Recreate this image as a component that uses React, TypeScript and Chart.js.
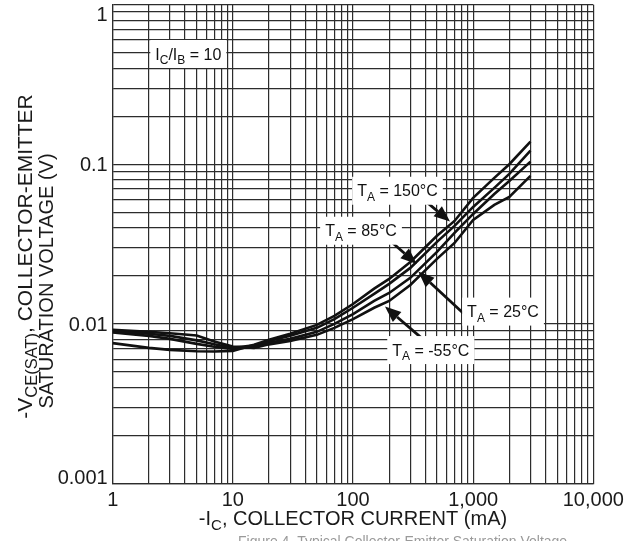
import React, { useEffect, useRef } from 'react';
import { Chart, registerables } from 'chart.js';

Chart.register(...registerables);

// ---------- data ----------
const currentMa = [1, 2, 3, 5, 7, 10, 15, 20, 30, 50, 70, 100, 150, 200, 300, 500, 700, 1000, 1500, 2000, 3000];
const vce150 = [0.00756, 0.00706, 0.00686, 0.00672, 0.0067, 0.00676, 0.00738, 0.00793, 0.00865, 0.00984, 0.0112, 0.0133, 0.0166, 0.0191, 0.0244, 0.0356, 0.0441, 0.0615, 0.0821, 0.1, 0.1385];
const vce85 = [0.00897, 0.00865, 0.0084, 0.00787, 0.00743, 0.00706, 0.00732, 0.00781, 0.0084, 0.00943, 0.0107, 0.0126, 0.0154, 0.0178, 0.0224, 0.0326, 0.0411, 0.054, 0.0711, 0.087, 0.1217];
const vce25 = [0.00881, 0.0084, 0.00804, 0.00748, 0.00717, 0.00696, 0.00717, 0.00759, 0.00804, 0.0089, 0.00999, 0.0115, 0.0139, 0.0156, 0.0194, 0.0282, 0.0371, 0.0488, 0.0651, 0.0786, 0.1038];
const vceM55 = [0.00916, 0.0089, 0.00873, 0.00844, 0.00774, 0.0072, 0.00706, 0.00743, 0.00781, 0.00852, 0.00943, 0.0107, 0.0126, 0.0139, 0.0175, 0.0255, 0.0321, 0.0448, 0.0556, 0.0624, 0.0845];

const xDecades = [1, 10, 100, 1000, 10000];
const xTickLabels = ['1', '10', '100', '1,000', '10,000'];
const yDecades = [0.001, 0.01, 0.1, 1];
const yTickLabels = ['0.001', '0.01', '0.1', '1'];
const seriesNames = ['150', '85', '25', '-55'];

const captionText = 'Figure 4. Typical Collector-Emitter Saturation Voltage';

// ---------- style ----------
const FONT = '"Liberation Sans", Arial, Helvetica, sans-serif';
const GRID = '#2c2c2c';
const INK = '#111111';

type Part = { t: string; sub?: boolean };

const tempParts = (t: string): Part[] => [{ t: 'T' }, { t: 'A', sub: true }, { t: ` = ${t}°C` }];

// annotations placed in data coordinates (x: mA, y: V)
const notes: { parts: Part[]; x: number; y: number; from?: [number, number]; to?: [number, number] }[] = [
  { parts: [{ t: 'I' }, { t: 'C', sub: true }, { t: '/I' }, { t: 'B', sub: true }, { t: ' = 10' }], x: 4.26, y: 0.491 },
  { parts: tempParts(seriesNames[0]), x: 234.6, y: 0.0682, from: [373.1, 0.0615], to: [641.8, 0.0437] },
  { parts: tempParts(seriesNames[1]), x: 116.6, y: 0.0383, from: [191.9, 0.0345], to: [339, 0.0237] },
  { parts: tempParts(seriesNames[2]), x: 1772, y: 0.01192, from: [827.9, 0.01165], to: [349.6, 0.02123] },
  { parts: tempParts(seriesNames[3]), x: 444.2, y: 0.006842, from: [373.1, 0.008124], to: [184.6, 0.01282] },
];

function logTicks(decades: number[]) {
  const out: number[] = [];
  for (let i = 0; i < decades.length - 1; i++) {
    for (let m = 1; m < 10; m++) out.push(+(m * decades[i]).toPrecision(3));
  }
  out.push(decades[decades.length - 1]);
  return out;
}

function richWidth(ctx: CanvasRenderingContext2D, parts: Part[], size: number, subSize: number) {
  let w = 0;
  for (const p of parts) {
    ctx.font = `${p.sub ? subSize : size}px ${FONT}`;
    w += ctx.measureText(p.t).width;
  }
  return w;
}

function drawRich(
  ctx: CanvasRenderingContext2D,
  parts: Part[],
  x: number,
  baseline: number,
  size: number,
  subSize: number,
  subDrop: number,
  align: 'left' | 'center'
) {
  const w = richWidth(ctx, parts, size, subSize);
  let cx = align === 'center' ? x - w / 2 : x;
  ctx.textAlign = 'left';
  ctx.textBaseline = 'alphabetic';
  for (const p of parts) {
    ctx.font = `${p.sub ? subSize : size}px ${FONT}`;
    ctx.fillText(p.t, cx, p.sub ? baseline + subDrop : baseline);
    cx += ctx.measureText(p.t).width;
  }
  return w;
}

const overlay = {
  id: 'overlay',
  afterDatasetsDraw(chart: any) {
    const ctx: CanvasRenderingContext2D = chart.ctx;
    const xs = chart.scales.x;
    const ys = chart.scales.y;
    ctx.save();
    // arrows
    for (const n of notes) {
      if (!n.from || !n.to) continue;
      const x1 = xs.getPixelForValue(n.from[0]);
      const y1 = ys.getPixelForValue(n.from[1]);
      const x2 = xs.getPixelForValue(n.to[0]);
      const y2 = ys.getPixelForValue(n.to[1]);
      const ang = Math.atan2(y2 - y1, x2 - x1);
      const hl = 16;
      const hw = 6.5;
      const bx = x2 - hl * Math.cos(ang);
      const by = y2 - hl * Math.sin(ang);
      ctx.strokeStyle = INK;
      ctx.lineWidth = 2.8;
      ctx.beginPath();
      ctx.moveTo(x1, y1);
      ctx.lineTo(bx, by);
      ctx.stroke();
      ctx.fillStyle = INK;
      ctx.beginPath();
      ctx.moveTo(x2, y2);
      ctx.lineTo(bx + hw * Math.sin(ang), by - hw * Math.cos(ang));
      ctx.lineTo(bx - hw * Math.sin(ang), by + hw * Math.cos(ang));
      ctx.closePath();
      ctx.fill();
    }
    // label boxes
    const size = 16;
    const sub = 12;
    for (const n of notes) {
      const cx = xs.getPixelForValue(n.x);
      const cy = ys.getPixelForValue(n.y);
      const w = richWidth(ctx, n.parts, size, sub);
      ctx.fillStyle = '#ffffff';
      ctx.fillRect(cx - w / 2 - 5, cy - 14, w + 10, 28);
      ctx.fillStyle = INK;
      drawRich(ctx, n.parts, cx, cy + 0.358 * size, size, sub, 4.5, 'center');
    }
    ctx.restore();
  },
  afterDraw(chart: any) {
    const ctx: CanvasRenderingContext2D = chart.ctx;
    const ys = chart.scales.y;
    const area = chart.chartArea;
    ctx.save();
    ctx.fillStyle = '#1a1a1a';
    // y tick labels
    ctx.font = `20px ${FONT}`;
    ctx.textAlign = 'right';
    ctx.textBaseline = 'alphabetic';
    yDecades.forEach((v, i) => {
      const p = ys.getPixelForValue(v);
      const c = Math.min(Math.max(p, area.top + 8.6), area.bottom - 6.8);
      ctx.fillText(yTickLabels[i], area.left - 5, c + 7.2);
    });
    // y axis title (two rotated lines)
    const line1: Part[] = [{ t: '-V' }, { t: 'CE(SAT)', sub: true }, { t: ', COLLECTOR-EMITTER' }];
    const line2: Part[] = [{ t: 'SATURATION VOLTAGE (V)' }];
    ctx.save();
    ctx.translate(31.7, 256.5);
    ctx.rotate(-Math.PI / 2);
    drawRich(ctx, line1, 0, 0, 21, 16.5, 5, 'center');
    ctx.restore();
    ctx.save();
    ctx.translate(53.3, 281);
    ctx.rotate(-Math.PI / 2);
    drawRich(ctx, line2, 0, 0, 20, 15, 5, 'center');
    ctx.restore();
    // x axis title
    const xt: Part[] = [{ t: '-I' }, { t: 'C', sub: true }, { t: ', COLLECTOR CURRENT (mA)' }];
    drawRich(ctx, xt, (area.left + area.right) / 2, 525, 20, 15, 5, 'center');
    // clipped caption
    ctx.fillStyle = '#9a9a9a';
    ctx.font = `14px ${FONT}`;
    ctx.textAlign = 'left';
    ctx.fillText(captionText, 238, 546);
    ctx.restore();
  },
};

export default function App() {
  const ref = useRef<HTMLCanvasElement>(null);
  useEffect(() => {
    const mk = (ys: number[]) => currentMa.map((x, i) => ({ x, y: ys[i] }));
    const ds = (label: string, ys: number[]) => ({
      label,
      data: mk(ys),
      showLine: true,
      borderColor: INK,
      backgroundColor: INK,
      borderWidth: 2.6,
      pointRadius: 0,
      tension: 0,
      fill: false,
    });
    const chart = new Chart(ref.current as HTMLCanvasElement, {
      type: 'scatter',
      data: {
        datasets: [
          ds(seriesNames[0], vce150),
          ds(seriesNames[1], vce85),
          ds(seriesNames[2], vce25),
          ds(seriesNames[3], vceM55),
        ],
      },
      options: {
        responsive: false,
        devicePixelRatio: 1,
        animation: false,
        events: [],
        layout: { padding: { left: 0, right: 32.7, top: 4.7, bottom: 0 } },
        plugins: { legend: { display: false }, tooltip: { enabled: false } },
        scales: {
          x: {
            type: 'logarithmic',
            min: 1,
            max: 10000,
            afterBuildTicks: (s: any) => {
              s.ticks = logTicks(xDecades).map((v) => ({ value: v, major: xDecades.includes(v) }));
            },
            afterFit: (s: any) => {
              s.height = 57.7;
              s.paddingLeft = 0;
              s.paddingRight = 0;
            },
            ticks: {
              autoSkip: false,
              maxRotation: 0,
              minRotation: 0,
              padding: 5,
              color: '#1a1a1a',
              font: { family: FONT, size: 20 },
              callback: (v: any) => {
                const i = xDecades.indexOf(Number(v));
                return i >= 0 ? xTickLabels[i] : '';
              },
            },
            grid: { color: GRID, lineWidth: 1.2, drawTicks: false },
            border: { color: GRID, width: 1.2 },
          },
          y: {
            type: 'logarithmic',
            min: 0.001,
            max: 1,
            afterBuildTicks: (s: any) => {
              s.ticks = logTicks(yDecades).map((v) => ({ value: v, major: yDecades.includes(v) }));
            },
            afterFit: (s: any) => {
              s.width = 112.7;
              s.paddingTop = 0;
              s.paddingBottom = 0;
            },
            ticks: { display: false, autoSkip: false, callback: () => '' },
            grid: { color: GRID, lineWidth: 1.2, drawTicks: false },
            border: { color: GRID, width: 1.2 },
          },
        },
      } as any,
      plugins: [overlay],
    });
    return () => chart.destroy();
  }, []);
  return (
    <div style={{ position: 'fixed', left: 0, top: 0, width: 626, height: 541, background: '#ffffff' }}>
      <canvas ref={ref} width={626} height={541} style={{ display: 'block', width: 626, height: 541 }} />
    </div>
  );
}
